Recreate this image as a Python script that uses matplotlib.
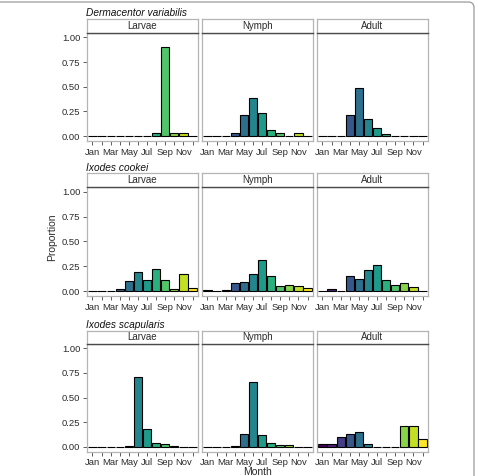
import matplotlib.pyplot as plt
import numpy as np
from matplotlib.patches import FancyBboxPatch

plt.rcParams['font.family'] = ['Liberation Sans', 'DejaVu Sans']

months = ['Jan', 'Feb', 'Mar', 'Apr', 'May', 'Jun',
          'Jul', 'Aug', 'Sep', 'Oct', 'Nov', 'Dec']
species = ['Dermacentor variabilis', 'Ixodes cookei', 'Ixodes scapularis']
stages = ['Larvae', 'Nymph', 'Adult']

# proportion of ticks per month, rows = species, cols = stage
dv_larvae = [0, 0, 0, 0, 0, 0, 0, 0.03, 0.90, 0.03, 0.03, 0]
dv_nymph = [0, 0, 0, 0.03, 0.21, 0.39, 0.235, 0.058, 0.027, 0, 0.027, 0]
dv_adult = [0, 0, 0, 0.21, 0.49, 0.17, 0.085, 0.02, 0, 0, 0, 0]
ic_larvae = [0, 0, 0, 0.02, 0.098, 0.19, 0.11, 0.226, 0.11, 0.024, 0.17, 0.034]
ic_nymph = [0.01, 0, 0.013, 0.084, 0.09, 0.175, 0.31, 0.155, 0.05, 0.064, 0.05, 0.03]
ic_adult = [0, 0.017, 0, 0.148, 0.12, 0.21, 0.26, 0.11, 0.06, 0.077, 0.044, 0]
is_larvae = [0, 0, 0, 0, 0.01, 0.705, 0.183, 0.037, 0.024, 0.01, 0, 0]
is_nymph = [0, 0, 0, 0.007, 0.132, 0.654, 0.115, 0.037, 0.017, 0.013, 0, 0]
is_adult = [0.027, 0.024, 0.10, 0.125, 0.15, 0.027, 0, 0, 0, 0.21, 0.213, 0.081]

data = [[dv_larvae, dv_nymph, dv_adult],
        [ic_larvae, ic_nymph, ic_adult],
        [is_larvae, is_nymph, is_adult]]

W, H = 478, 476
fig = plt.figure(figsize=(W / 100, H / 100), dpi=100)

# outer frame of the figure
frame = FancyBboxPatch((-10 / W, -10 / H), 484 / W, 8.5 / H + 1 - 0.5 / H,
                       boxstyle="round,pad=0,rounding_size=0.012",
                       transform=fig.transFigure, fill=False,
                       edgecolor='#9a9a9a', linewidth=0.9)
fig.patches.append(frame)

col_x = [87, 202, 317]
col_w = 111
# strip top, strip bottom (= plot top), plot bottom, in pixels
rows = [(19, 32.5, 141), (173.5, 187, 296), (331, 343.5, 451.5)]
title_y = [13, 168, 325]

colors = plt.cm.viridis(np.linspace(0, 1, 12))
x = np.arange(1, 13)
grey = '#b5b5b5'
txt = '#2b2b2b'


def fx(px):
    return px / W


def fy(py):
    return 1 - py / H


for r in range(3):
    st, pt, pb = rows[r]
    fig.text(fx(86), fy(title_y[r]), species[r], style='italic',
             fontsize=7.3, ha='left', va='center', color='#111111')
    for c in range(3):
        ax = fig.add_axes([fx(col_x[c]), fy(pb), col_w / W, (pb - pt) / H])
        ax.bar(x, data[r][c], width=0.9, color=colors,
               edgecolor='black', linewidth=0.8)
        ax.set_xlim(0.4, 12.6)
        ax.set_ylim(-0.05, 1.05)
        ax.set_xticks(x)
        ax.set_xticklabels([m if i % 2 == 0 else '' for i, m in enumerate(months)])
        ax.set_yticks([0, 0.25, 0.5, 0.75, 1.0])
        if c == 0:
            ax.set_yticklabels(['0.00', '0.25', '0.50', '0.75', '1.00'])
        else:
            ax.tick_params(axis='y', left=False, labelleft=False)
        ax.tick_params(axis='both', labelsize=6.8, colors='#444444',
                       labelcolor=txt, length=2.8, width=0.6, pad=2)
        for s in ax.spines.values():
            s.set_color(grey)
            s.set_linewidth(0.9)

        sax = fig.add_axes([fx(col_x[c]), fy(pt), col_w / W, (pt - st) / H])
        sax.set_xticks([])
        sax.set_yticks([])
        for s in sax.spines.values():
            s.set_color(grey)
            s.set_linewidth(0.9)
        sax.spines['bottom'].set_color('#4a4a4a')
        sax.spines['bottom'].set_linewidth(1.0)
        sax.text(0.5, 0.5, stages[c], fontsize=7, ha='center', va='center',
                 color=txt, transform=sax.transAxes)

fig.text(fx(257), fy(472), 'Month', fontsize=7.5, ha='center', va='center',
         color=txt)
fig.text(fx(52), fy(237), 'Proportion', fontsize=7.5, ha='center',
         va='center', rotation=90, color=txt)

fig.savefig('out.png', dpi=100)
